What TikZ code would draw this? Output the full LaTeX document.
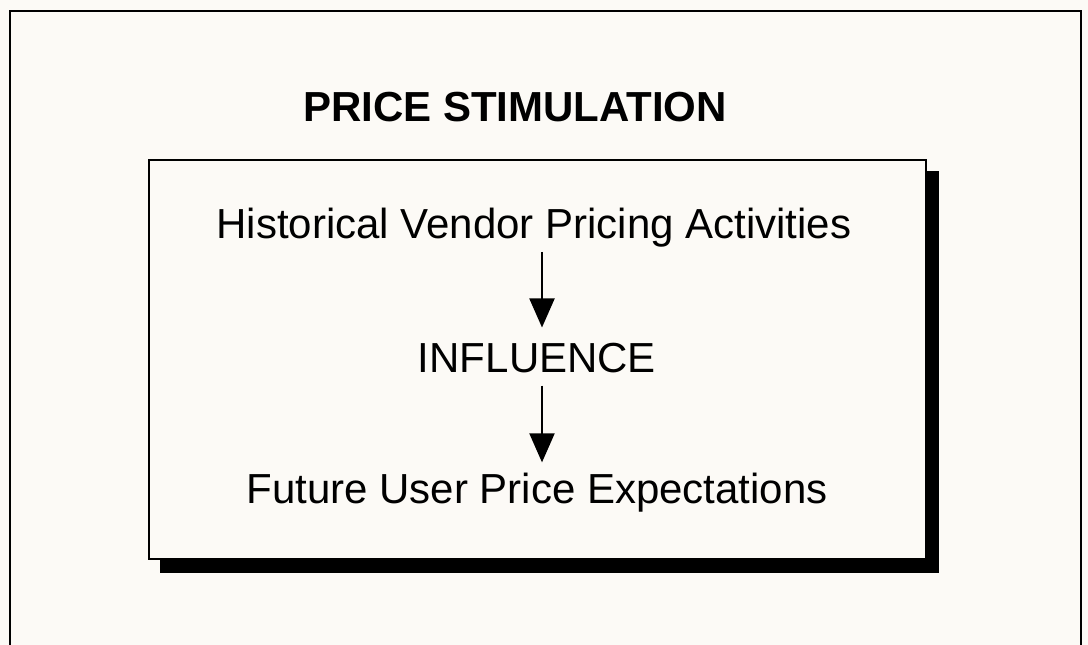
\documentclass[tikz,border=0pt]{standalone}
\usepackage{fontspec}
\setmainfont{Liberation Sans}
\usetikzlibrary{arrows.meta, positioning}
\definecolor{paper}{HTML}{FCFAF6}
\def\BodySize{\fontsize{42}{50}\selectfont}

\begin{document}
\begin{tikzpicture}[
    x=1pt, y=-1pt,
    every node/.style={inner sep=0pt, anchor=base, font=\BodySize},
    frame/.style={draw, line width=2pt},
    panel/.style={draw, line width=2.5pt, fill=paper},
    dropshadow/.style={fill=black},
    flow/.style={draw, line width=2pt, -{Triangle[width=25pt, length=29pt]}}
]

% Background
\fill[paper] (0,0) rectangle (1088,645);
\useasboundingbox (0,0) rectangle (1088,645);
\draw[frame] (10,660) -- (10,11) -- (1081,11) -- (1081,660);

% Panel with its shadow
\fill[dropshadow] (160,171) rectangle (939,573);
\draw[panel] (149,160) rectangle (926,559);

% Title
\node[font=\BodySize\bfseries] (title) at (515,121) {PRICE STIMULATION};

% Panel nodes
\node (histPricing) at (534,238) {Historical Vendor Pricing Activities};
\node (influence) at (537,372) {INFLUENCE};
\node (futureExpect) at (537,503) {Future User Price Expectations};

% Edges
\draw[flow, shorten <=5pt, shorten >=15pt] ([xshift=8pt]histPricing.south) -- ([xshift=8pt]histPricing.south |- influence.north);
\draw[flow, shorten <=13pt, shorten >=10pt] ([xshift=5pt]influence.south) -- ([xshift=5pt]influence.south |- futureExpect.north);
\end{tikzpicture}
\end{document}
